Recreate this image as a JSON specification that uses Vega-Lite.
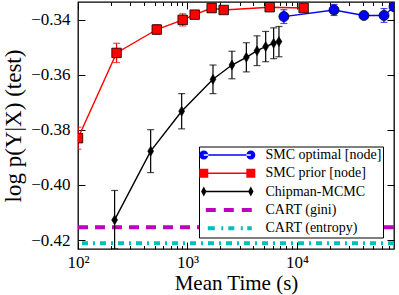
{
  "$schema": "https://vega.github.io/schema/vega-lite/v6.json",
  "width": 316,
  "height": 247,
  "autosize": "none",
  "padding": {"left": 78, "top": 2, "right": 5, "bottom": 46},
  "background": "white",
  "config": {
    "view": {"stroke": "black", "strokeWidth": 1.3},
    "axis": {
      "grid": false, "domain": false, "tickColor": "black", "tickWidth": 1,
      "labelColor": "black", "titleColor": "black",
      "labelFont": "Liberation Serif", "titleFont": "Liberation Serif",
      "labelFontSize": 17, "titleFontSize": 21, "titleFontWeight": "normal"
    }
  },
  "data": {"values": [
    {"series": "SMC optimal [node]", "time": 7600, "value": -0.3388, "lo": -0.3413, "hi": -0.3363},
    {"series": "SMC optimal [node]", "time": 21800, "value": -0.3364, "lo": -0.3384, "hi": -0.3344},
    {"series": "SMC optimal [node]", "time": 40900, "value": -0.3384, "lo": -0.3392, "hi": -0.3376},
    {"series": "SMC optimal [node]", "time": 62400, "value": -0.3384, "lo": -0.3409, "hi": -0.3359},
    {"series": "SMC optimal [node]", "time": 77000, "value": -0.3352, "lo": null, "hi": null},
    {"series": "SMC prior [node]", "time": 100, "value": -0.383, "lo": -0.387, "hi": -0.379},
    {"series": "SMC prior [node]", "time": 225, "value": -0.352, "lo": -0.3555, "hi": -0.3485},
    {"series": "SMC prior [node]", "time": 524, "value": -0.3435, "lo": -0.3452, "hi": -0.3418},
    {"series": "SMC prior [node]", "time": 904, "value": -0.34, "lo": -0.3422, "hi": -0.3378},
    {"series": "SMC prior [node]", "time": 1164, "value": -0.3381, "lo": -0.3391, "hi": -0.3371},
    {"series": "SMC prior [node]", "time": 1663, "value": -0.3357, "lo": -0.3372, "hi": -0.3342},
    {"series": "SMC prior [node]", "time": 2142, "value": -0.3364, "lo": -0.3374, "hi": -0.3354},
    {"series": "SMC prior [node]", "time": 5636, "value": -0.3354, "lo": -0.3362, "hi": -0.3346},
    {"series": "SMC prior [node]", "time": 11510, "value": -0.3357, "lo": -0.3365, "hi": -0.3349},
    {"series": "Chipman-MCMC", "time": 216, "value": -0.4127, "lo": -0.4232, "hi": -0.402},
    {"series": "Chipman-MCMC", "time": 461, "value": -0.3877, "lo": -0.3955, "hi": -0.3799},
    {"series": "Chipman-MCMC", "time": 885, "value": -0.3732, "lo": -0.3796, "hi": -0.3668},
    {"series": "Chipman-MCMC", "time": 1710, "value": -0.3616, "lo": -0.3668, "hi": -0.3564},
    {"series": "Chipman-MCMC", "time": 2548, "value": -0.3564, "lo": -0.3614, "hi": -0.3514},
    {"series": "Chipman-MCMC", "time": 3450, "value": -0.3536, "lo": -0.3589, "hi": -0.3483},
    {"series": "Chipman-MCMC", "time": 4315, "value": -0.3512, "lo": -0.3566, "hi": -0.3458},
    {"series": "Chipman-MCMC", "time": 5180, "value": -0.3497, "lo": -0.3552, "hi": -0.3442},
    {"series": "Chipman-MCMC", "time": 6125, "value": -0.3485, "lo": -0.3541, "hi": -0.3429},
    {"series": "Chipman-MCMC", "time": 6850, "value": -0.3479, "lo": -0.3534, "hi": -0.3424},
    {"series": "CART (gini)", "time": null, "value": -0.4154, "lo": null, "hi": null},
    {"series": "CART (entropy)", "time": null, "value": -0.4212, "lo": null, "hi": null}
  ]},
  "resolve": {"axis": {"x": "independent", "y": "independent"}},
  "layer": [
    {
      "transform": [{"filter": "datum.series == 'CART (gini)'"}],
      "mark": {"type": "rule", "color": "#bf00bf", "strokeWidth": 4, "strokeDash": [10, 7]},
      "encoding": {
        "y": {"field": "value", "type": "quantitative", "scale": {"domain": [-0.42327, -0.3335], "nice": false, "zero": false}, "axis": null}
      }
    },
    {
      "transform": [{"filter": "datum.series == 'CART (entropy)'"}],
      "mark": {"type": "rule", "color": "#00bfbf", "strokeWidth": 4, "strokeDash": [6, 5, 2, 5]},
      "encoding": {
        "y": {"field": "value", "type": "quantitative", "scale": {"domain": [-0.42327, -0.3335], "nice": false, "zero": false}, "axis": null}
      }
    },
    {
      "transform": [{"filter": "isValid(datum.time)"}],
      "mark": {"type": "line", "strokeWidth": 1.4, "clip": true},
      "encoding": {
        "x": {"field": "time", "type": "quantitative", "scale": {"type": "log", "domain": [100, 77000], "nice": false},
              "axis": {"orient": "top", "values": [100, 1000, 10000], "tickSize": -7, "labels": false, "title": null}},
        "y": {"field": "value", "type": "quantitative", "scale": {"domain": [-0.42327, -0.3335], "nice": false, "zero": false},
              "axis": {"orient": "right", "values": [-0.42, -0.4, -0.38, -0.36, -0.34], "tickSize": -7, "labels": false, "title": null}},
        "detail": {"field": "series", "type": "nominal"},
        "color": {"condition": [
                    {"test": "datum.series == 'SMC optimal [node]'", "value": "#0000ff"},
                    {"test": "datum.series == 'SMC prior [node]'", "value": "#ff0000"}
                  ], "value": "#000000"}
      }
    },
    {
      "transform": [{"filter": "isValid(datum.lo)"}],
      "mark": {"type": "errorbar", "ticks": {"clip": true, "size": 7}, "rule": {"clip": true}, "thickness": 1.2},
      "encoding": {
        "x": {"field": "time", "type": "quantitative", "axis": null},
        "y": {"field": "lo", "type": "quantitative", "axis": null},
        "y2": {"field": "hi"},
        "detail": {"field": "series", "type": "nominal"},
        "color": {"condition": [
                    {"test": "datum.series == 'SMC optimal [node]'", "value": "#0000ff"},
                    {"test": "datum.series == 'SMC prior [node]'", "value": "#ff0000"}
                  ], "value": "#000000"}
      }
    },
    {
      "transform": [{"filter": "datum.series == 'SMC optimal [node]'"}],
      "mark": {"type": "point", "shape": "circle", "filled": true, "fill": "#0000ff", "stroke": "black", "strokeWidth": 0.8, "size": 100, "opacity": 1, "clip": true},
      "encoding": {
        "x": {"field": "time", "type": "quantitative",
              "axis": {"orient": "bottom", "values": [100, 1000, 10000], "ticks": false, "labelPadding": 5, "labelFlush": false,
                       "labelExpr": "datum.value == 100 ? '10²' : datum.value == 1000 ? '10³' : '10⁴'",
                       "title": "Mean Time (s)", "titlePadding": 2}},
        "y": {"field": "value", "type": "quantitative",
              "axis": {"orient": "left", "values": [-0.42, -0.4, -0.38, -0.36, -0.34], "format": ".2f", "ticks": false, "labelPadding": 8,
                       "title": "log p(Y|X) (test)", "titlePadding": 5, "titleFontSize": 23}}
      }
    },
    {
      "transform": [{"filter": "datum.series == 'SMC prior [node]'"}],
      "mark": {"type": "point", "shape": "square", "filled": true, "fill": "#ff0000", "stroke": "black", "strokeWidth": 0.8, "size": 90, "opacity": 1, "clip": true},
      "encoding": {
        "x": {"field": "time", "type": "quantitative",
              "axis": {"orient": "bottom", "values": [100, 1000, 10000], "tickSize": -7, "labels": false, "title": null}},
        "y": {"field": "value", "type": "quantitative",
              "axis": {"orient": "left", "values": [-0.42, -0.4, -0.38, -0.36, -0.34], "tickSize": -7, "labels": false, "title": null}}
      }
    },
    {
      "transform": [{"filter": "datum.series == 'Chipman-MCMC'"}],
      "mark": {"type": "point", "shape": "M0,-1L0.6,0L0,1L-0.6,0Z", "filled": true, "fill": "black", "stroke": "black", "strokeWidth": 0.5, "size": 100, "opacity": 1, "clip": true},
      "encoding": {
        "x": {"field": "time", "type": "quantitative",
              "axis": {"orient": "bottom", "values": [200, 300, 400, 500, 600, 700, 800, 900, 2000, 3000, 4000, 5000, 6000, 7000, 8000, 9000, 20000, 30000, 40000, 50000, 60000, 70000], "tickSize": -3.5, "labels": false, "title": null}},
        "y": {"field": "value", "type": "quantitative", "axis": null}
      }
    },
    {
      "mark": {"type": "point", "filled": true, "opacity": 0},
      "encoding": {
        "x": {"field": "time", "type": "quantitative",
              "axis": {"orient": "top", "values": [200, 300, 400, 500, 600, 700, 800, 900, 2000, 3000, 4000, 5000, 6000, 7000, 8000, 9000, 20000, 30000, 40000, 50000, 60000, 70000], "tickSize": -3.5, "labels": false, "title": null}},
        "y": {"field": "value", "type": "quantitative", "axis": null},
        "color": {"field": "series", "type": "nominal",
                  "scale": {"domain": ["SMC optimal [node]", "SMC prior [node]", "Chipman-MCMC", "CART (gini)", "CART (entropy)"],
                            "range": ["#0000ff", "#ff0000", "#000000", "#bf00bf", "#00bfbf"]},
                  "legend": {"orient": "none", "legendX": 121, "legendY": 144.5, "title": null, "symbolOpacity": 1, "symbolSize": 144, "symbolStrokeWidth": 0,
                             "labelFont": "Liberation Serif", "labelFontSize": 14, "labelColor": "black", "labelOffset": 51, "rowPadding": 4.3, "padding": 1.5,
                             "strokeColor": "black", "fillColor": "white", "cornerRadius": 0, "labelLimit": 300}},
        "shape": {"field": "series", "type": "nominal",
                  "scale": {"domain": ["SMC optimal [node]", "SMC prior [node]", "Chipman-MCMC", "CART (gini)", "CART (entropy)"],
                            "range": [
                              "M-1.37,0A0.75,0.75,0,1,0,0.13,0A0.75,0.75,0,1,0,-1.37,0Z M-0.62,-0.125L7.22,-0.125L7.22,0.125L-0.62,0.125Z M6.47,0A0.75,0.75,0,1,0,7.97,0A0.75,0.75,0,1,0,6.47,0Z",
                              "M-1.37,-0.75H0.13V0.75H-1.37Z M-0.62,-0.125H7.22V0.125H-0.62Z M6.47,-0.75H7.97V0.75H6.47Z",
                              "M-0.62,-0.83L-0.17,0L-0.62,0.83L-1.07,0Z M-0.62,-0.125H7.22V0.125H-0.62Z M7.22,-0.83L7.67,0L7.22,0.83L6.77,0Z",
                              "M-0.28,-0.33H1.38V0.33H-0.28Z M2.72,-0.33H4.38V0.33H2.72Z M5.72,-0.33H7.38V0.33H5.72Z",
                              "M0.05,-0.33H1.22V0.33H0.05Z M2.3,-0.33H2.63V0.33H2.3Z M3.47,-0.33H4.47V0.33H3.47Z M5.55,-0.33H5.88V0.33H5.55Z M6.63,-0.33H7.38V0.33H6.63Z"
                            ]},
                  "legend": {"orient": "none", "legendX": 121, "legendY": 144.5, "title": null, "symbolOpacity": 1, "symbolSize": 144, "symbolStrokeWidth": 0,
                             "labelFont": "Liberation Serif", "labelFontSize": 14, "labelColor": "black", "labelOffset": 51, "rowPadding": 4.3, "padding": 1.5,
                             "strokeColor": "black", "fillColor": "white", "cornerRadius": 0, "labelLimit": 300}}
      }
    }
  ]
}
